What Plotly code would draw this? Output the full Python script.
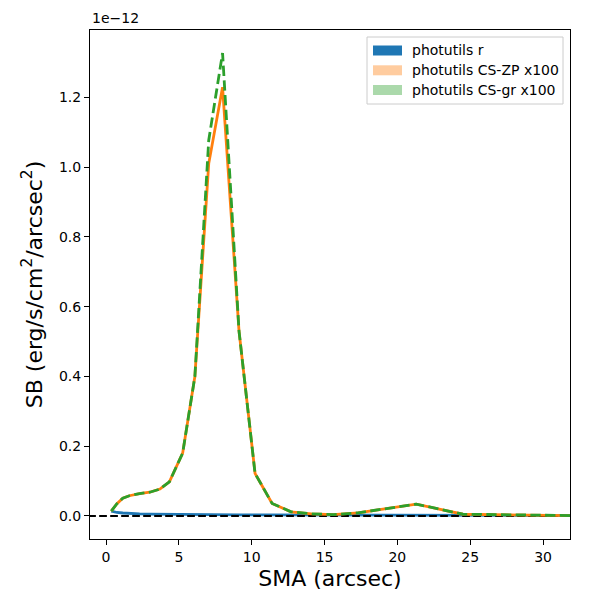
import plotly.graph_objects as go

# SMA (arcsec) sample radii
sma = [0.36, 0.75, 1.15, 1.6, 2.3, 3.0, 3.7, 4.35, 5.26, 6.1, 7.05, 8.0, 9.13,
       10.23, 11.4, 12.7, 14.1, 15.6, 17.3, 19.2, 21.3, 24.5, 27.0, 30.0, 32.2]
# surface brightness, in units of 1e-12 erg/s/cm2/arcsec2
sb_r = [0.014, 0.010, 0.0085, 0.007, 0.006, 0.0055, 0.005, 0.0045, 0.0043, 0.004,
        0.0038, 0.0035, 0.0032, 0.003, 0.0028, 0.0026, 0.0024, 0.0022, 0.002,
        0.002, 0.0018, 0.0016, 0.0015, 0.0013, 0.0012]
sb_cs_zp = [0.014, 0.035, 0.051, 0.058, 0.064, 0.068, 0.077, 0.098, 0.18, 0.40,
            1.01, 1.229, 0.53, 0.122, 0.036, 0.012, 0.006, 0.004, 0.009, 0.020,
            0.034, 0.005, 0.003, 0.002, 0.001]
sb_cs_gr = [0.014, 0.035, 0.051, 0.058, 0.064, 0.068, 0.077, 0.098, 0.18, 0.40,
            1.077, 1.327, 0.53, 0.122, 0.036, 0.012, 0.006, 0.004, 0.009, 0.020,
            0.034, 0.005, 0.003, 0.002, 0.001]
legend_labels = ["photutils r", "photutils CS-ZP x100", "photutils CS-gr x100"]
x_ticks = [0, 5, 10, 15, 20, 25, 30]
y_ticks = [0.0, 0.2, 0.4, 0.6, 0.8, 1.0, 1.2]

BLUE, ORANGE, GREEN = "#1f77b4", "#ff7f0e", "#2ca02c"
FONT = "DejaVu Sans"

fig = go.Figure()
fig.add_trace(go.Scatter(x=sma, y=sb_r, mode="lines",
                         line=dict(color=BLUE, width=2.8), showlegend=False))
fig.add_trace(go.Scatter(x=[-5, 40], y=[0, 0], mode="lines",
                         line=dict(color="black", width=2.1, dash="7.7px,3.3px"),
                         showlegend=False))
fig.add_trace(go.Scatter(x=sma, y=sb_cs_zp, mode="lines",
                         line=dict(color=ORANGE, width=2.8), showlegend=False))
fig.add_trace(go.Scatter(x=sma, y=sb_cs_gr, mode="lines",
                         line=dict(color=GREEN, width=2.8, dash="10.3px,4.4px"),
                         showlegend=False))

# plot area in pixels
L, R, T, B = 90, 570, 30, 539
W, H = R - L, B - T
def px(xp):
    return (xp - L) / W
def py(yp):
    return (B - yp) / H

shapes = [dict(type="rect", xref="paper", yref="paper",
               x0=px(367), x1=px(563), y0=py(104), y1=py(37),
               line=dict(color="#cccccc", width=1), fillcolor="rgba(255,255,255,0.8)")]
annots = []
patch_cols = [BLUE, "rgba(255,127,14,0.4)", "rgba(44,160,44,0.4)"]
for lab, col, yc in zip(legend_labels, patch_cols, [50.5, 70.3, 90.0]):
    shapes.append(dict(type="rect", xref="paper", yref="paper",
                       x0=px(373), x1=px(402), y0=py(yc + 5), y1=py(yc - 5),
                       line=dict(width=0), fillcolor=col))
    annots.append(dict(text=lab, xref="paper", yref="paper", x=px(410), y=py(yc),
                       xanchor="left", yanchor="middle", showarrow=False,
                       font=dict(family=FONT, size=14, color="black")))
annots.append(dict(text="1e\u221212", xref="paper", yref="paper", x=0, y=1.003,
                   xanchor="left", yanchor="bottom", showarrow=False,
                   font=dict(family=FONT, size=14, color="black")))

fig.update_layout(
    width=600, height=600,
    margin=dict(l=L, r=600 - R, t=T, b=600 - B, autoexpand=False),
    plot_bgcolor="white", paper_bgcolor="white",
    font=dict(family=FONT, size=14, color="black"),
    shapes=shapes, annotations=annots, showlegend=False,
)
fig.update_xaxes(range=[-1.1, 31.85], tickvals=x_ticks, showgrid=False, zeroline=False,
                 automargin=False,
                 showline=True, mirror=True, linecolor="black", linewidth=1.1,
                 ticks="outside", ticklen=5, tickwidth=1.1, tickcolor="black",
                 title=dict(text="SMA (arcsec)", font=dict(family=FONT, size=22), standoff=6))
fig.update_yaxes(range=[-0.066, 1.393], tickvals=y_ticks, tickformat=".1f",
                 showgrid=False, zeroline=False, automargin=False,
                 showline=True, mirror=True, linecolor="black", linewidth=1.1,
                 ticks="outside", ticklen=5, tickwidth=1.1, tickcolor="black",
                 title=dict(text="SB (erg/s/cm<sup>2</sup>/arcsec<sup>2</sup>)",
                            font=dict(family=FONT, size=22), standoff=10))

fig.write_html("out.html", config={"displayModeBar": False},
               post_script="document.body.style.margin='0';")
